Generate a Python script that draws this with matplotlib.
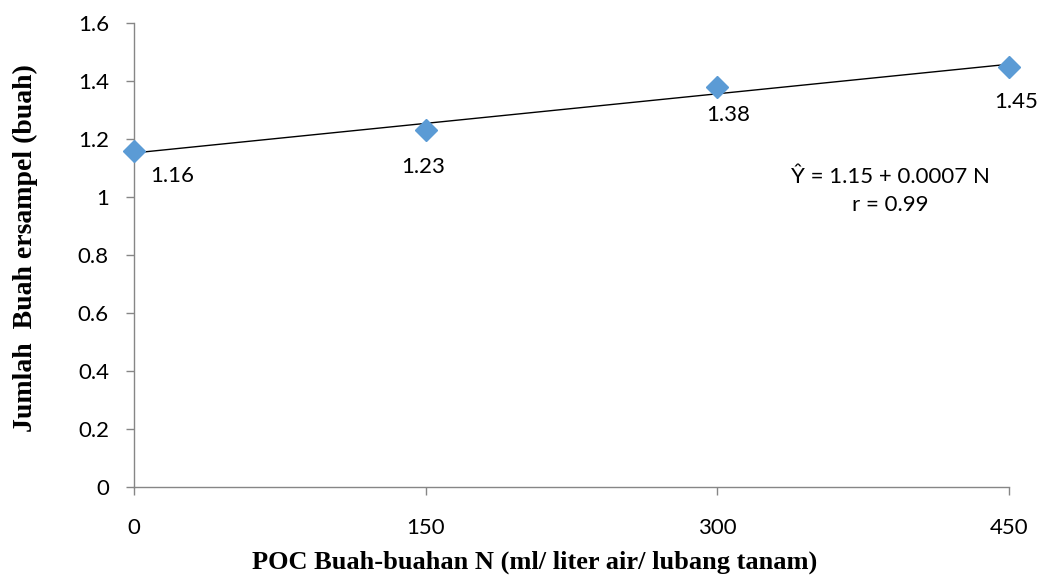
import matplotlib.pyplot as plt
import numpy as np

# POC dose (ml / liter air / lubang tanam) and fruit count per sample
dosis = [0, 150, 300, 450]
jumlah_buah = [1.16, 1.23, 1.38, 1.45]
x_ticks = [0, 150, 300, 450]
y_ticks = [0, 0.2, 0.4, 0.6, 0.8, 1.0, 1.2, 1.4, 1.6]
y_ticklabels = ["0", "0.2", "0.4", "0.6", "0.8", "1", "1.2", "1.4", "1.6"]

tick_font = "Lato"
axis_font = "Liberation Serif"
grey = "#868686"

fig = plt.figure(figsize=(10.46, 5.76), dpi=100)
ax = fig.add_axes([0.1281, 0.1545, 0.8365, 0.8055])

# linear trend line through the observations
slope, intercept = np.polyfit(dosis, jumlah_buah, 1)
xl = np.array([dosis[0], dosis[-1]])
ax.plot(xl, intercept + slope * xl, color="black", lw=1.0, zorder=2)

ax.plot(dosis, jumlah_buah, linestyle="none", marker="D", markersize=11,
        color="#5B9BD5", zorder=3, clip_on=False)

# value labels under each point (offsets in points)
offsets = [(12, -11), (-2, -19), (8, -13), (5, -18)]
aligns = ["left", "center", "center", "center"]
for x, y, (dx, dy), ha in zip(dosis, jumlah_buah, offsets, aligns):
    ax.annotate(f"{y:.2f}", (x, y), xytext=(dx, dy), textcoords="offset points",
                ha=ha, va="top", fontsize=16, family=tick_font)

ax.text(0.864, 0.638, "Ŷ = 1.15 + 0.0007 N\nr = 0.99", transform=ax.transAxes,
        ha="center", va="center", fontsize=16, family=tick_font, linespacing=1.45)

ax.set_xlim(0, 450)
ax.set_ylim(0, 1.6)
ax.set_xticks(x_ticks)
ax.set_xticklabels([str(v) for v in x_ticks])
ax.set_yticks(y_ticks)
ax.set_yticklabels(y_ticklabels)

for side in ("top", "right"):
    ax.spines[side].set_visible(False)
for side in ("left", "bottom"):
    ax.spines[side].set_color(grey)
    ax.spines[side].set_linewidth(1.0)

ax.tick_params(axis="both", direction="out", length=6, width=1.0, color=grey,
               labelsize=16)
ax.tick_params(axis="x", pad=16)
ax.tick_params(axis="y", pad=12)
for lab in ax.get_xticklabels() + ax.get_yticklabels():
    lab.set_family(tick_font)

ax.set_xlabel("POC Buah-buahan N (ml/ liter air/ lubang tanam)", family=axis_font,
              fontweight="bold", fontsize=19)
ax.set_ylabel("Jumlah  Buah ersampel (buah)", family=axis_font,
              fontweight="bold", fontsize=20)
ax.xaxis.label.set_va("center")
ax.yaxis.label.set_va("center")
ax.xaxis.set_label_coords(0.458, -0.1616)
ax.yaxis.set_label_coords(-0.1246, 0.516)

fig.savefig("out.png", dpi=100)
